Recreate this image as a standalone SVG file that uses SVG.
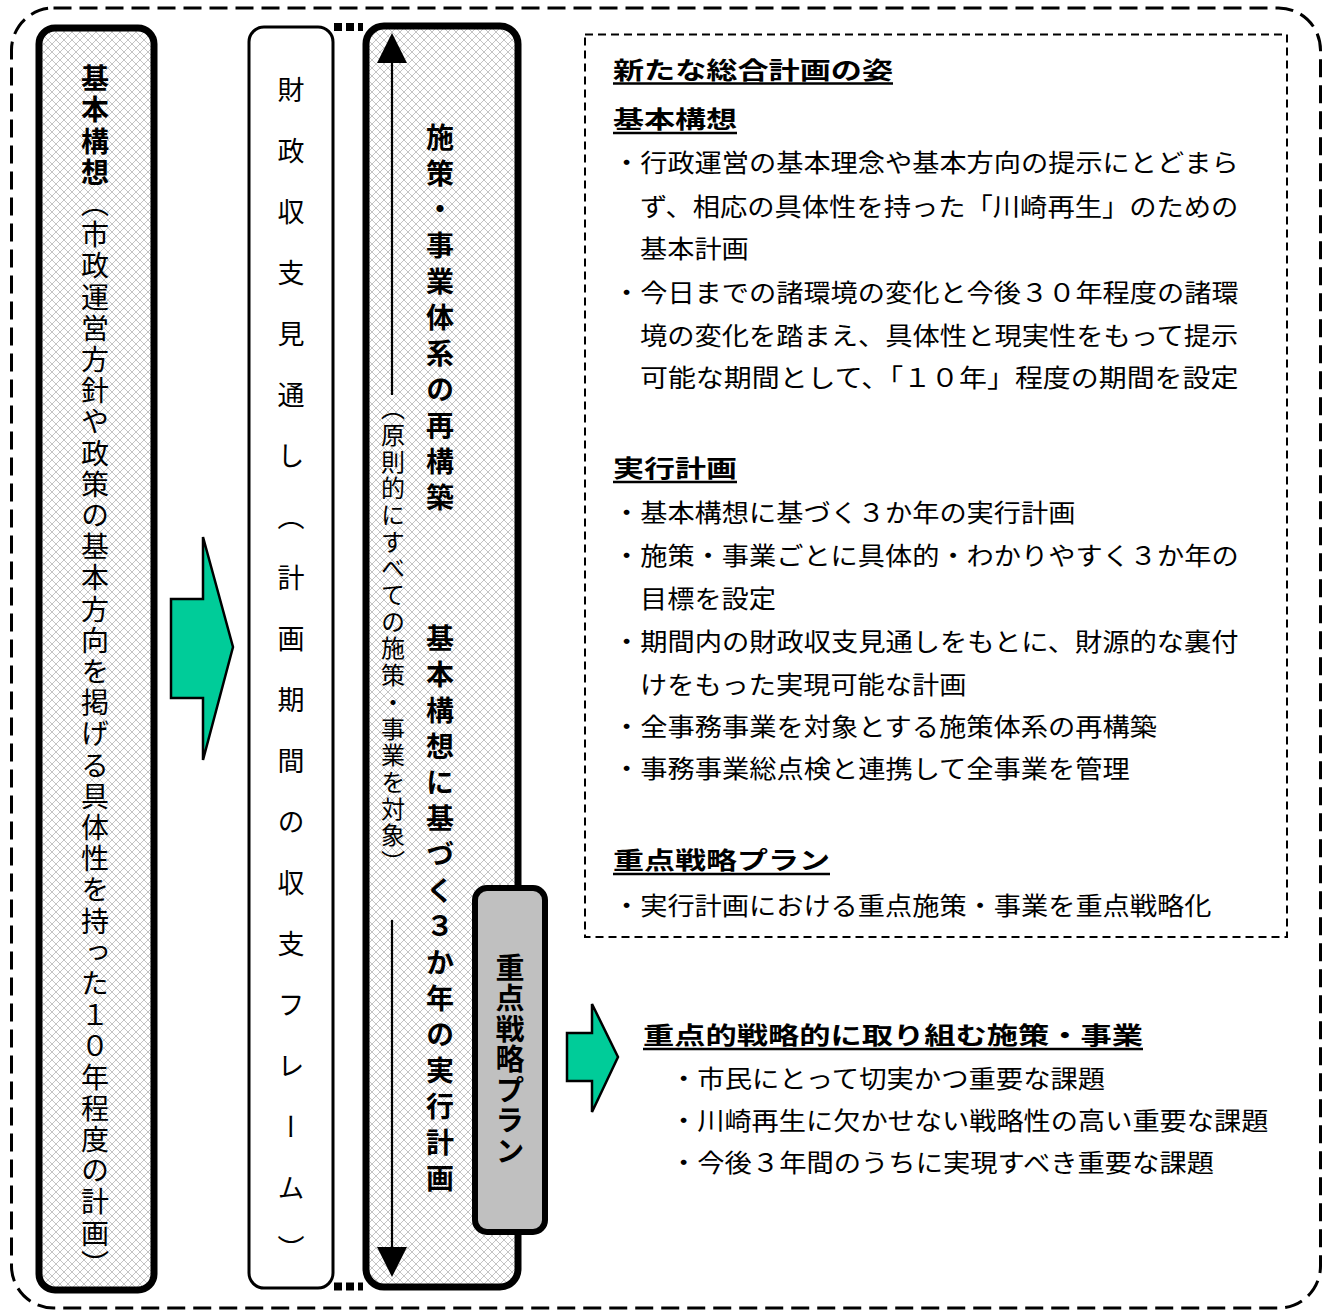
<svg xmlns="http://www.w3.org/2000/svg" width="1324" height="1313" viewBox="0 0 1324 1313">
<style>
.v { writing-mode: vertical-rl; font-family: "Noto Sans CJK JP", "Noto Sans CJK SC", sans-serif; fill: #000; }
.t { font-family: "Noto Sans CJK JP", "Noto Sans CJK SC", sans-serif; font-size: 25px; fill: #000; }
.h { font-family: "Noto Sans CJK JP", "Noto Sans CJK SC", sans-serif; font-size: 24px; font-weight: bold; fill: #000; }
.ul { stroke: #000; stroke-width: 2.5; }
.garrow { fill: #00CC99; stroke: #000; stroke-width: 2.5; stroke-linejoin: miter; }
</style>
<defs>
<pattern id="hatch" width="8" height="8" patternUnits="userSpaceOnUse">
<rect width="8" height="8" fill="#fff"/>
<path d="M0,0 L8,8 M8,0 L0,8" stroke="#c4c4c4" stroke-width="1"/>
</pattern>
<marker id="ah" markerUnits="userSpaceOnUse" markerWidth="30" markerHeight="30" refX="0" refY="15" orient="auto-start-reverse" viewBox="0 0 30 30">
<path d="M0,0 L30,15 L0,30 z" fill="#000"/>
</marker>
</defs>
<rect width="1324" height="1313" fill="#fff"/>

<g id="frame">
<rect x="11.5" y="8" width="1309" height="1300" rx="42" ry="42" fill="none" stroke="#000" stroke-width="3" stroke-dasharray="18 8"/>
</g>

<g id="node-kihon-koso">
<rect x="39" y="28" width="115" height="1262" rx="16" ry="16" fill="url(#hatch)" stroke="#000" stroke-width="7"/>
<text class="v" x="95" y="64.5" font-size="28" letter-spacing="3.2"><tspan font-weight="bold">基本構想</tspan>（市政運営方針や政策の基本方向を掲げる具体性を持った１０年程度の計画）</text>
</g>

<g id="node-zaisei">
<rect x="249" y="27" width="84" height="1261" rx="15" ry="15" fill="#fff" stroke="#000" stroke-width="3"/>
<text class="v" x="291" y="76.5" font-size="27" letter-spacing="34">財政収支見通し（計画期間の収支フレーム）</text>
</g>

<g id="node-jikko">
<rect x="366" y="26" width="152" height="1261" rx="18" ry="18" fill="url(#hatch)" stroke="#000" stroke-width="7"/>
<text class="v" x="440" y="123" font-size="28" font-weight="bold" letter-spacing="8">施策・事業体系の再構築</text>
<text class="v" x="440" y="624" font-size="28" font-weight="bold" letter-spacing="8">基本構想に基づく３か年の実行計画</text>
<text class="v" x="393" y="396" font-size="24" letter-spacing="2.7">（原則的にすべての施策・事業を対象）</text>
</g>

<g id="node-juten">
<rect x="475" y="888" width="70" height="344" rx="12" ry="12" fill="#c0c0c0" stroke="#000" stroke-width="6"/>
<text class="v" x="510" y="953" font-size="29" font-weight="bold" letter-spacing="1.5">重点戦略プラン</text>
</g>

<g id="connectors">
<polygon class="garrow" points="171,599 203,599 203,537 233,647 203,760 203,698 171,698"/>
<polygon class="garrow" points="567,1033 592,1033 592,1004 618,1057 592,1112 592,1081 567,1081"/>
<line x1="334" y1="27" x2="363" y2="27" stroke="#000" stroke-width="8" stroke-dasharray="8 4"/>
<line x1="334" y1="1286.5" x2="363" y2="1286.5" stroke="#000" stroke-width="8" stroke-dasharray="8 4"/>
<line x1="392" y1="63" x2="392" y2="395" stroke="#000" stroke-width="2.2" marker-start="url(#ah)"/>
<line x1="392" y1="920" x2="392" y2="1247" stroke="#000" stroke-width="2.2" marker-end="url(#ah)"/>
</g>

<g id="node-sugata">
<rect x="585" y="34.5" width="702" height="902.5" fill="#fff" stroke="#000" stroke-width="2" stroke-dasharray="8 5"/>
<text class="h" x="613" y="79" textLength="280" lengthAdjust="spacingAndGlyphs">新たな総合計画の姿</text>
<line class="ul" x1="613" y1="83.5" x2="893" y2="83.5"/>
<text class="h" x="613" y="128" textLength="124" lengthAdjust="spacingAndGlyphs">基本構想</text>
<line class="ul" x1="613" y1="133" x2="737" y2="133"/>
<text class="t" x="613" y="172" textLength="625.6" lengthAdjust="spacingAndGlyphs">・行政運営の基本理念や基本方向の提示にとどまら</text>
<text class="t" x="640" y="216" textLength="598.4" lengthAdjust="spacingAndGlyphs">ず、相応の具体性を持った「川崎再生」のための</text>
<text class="t" x="640" y="258" textLength="108.8" lengthAdjust="spacingAndGlyphs">基本計画</text>
<text class="t" x="613" y="302" textLength="625.6" lengthAdjust="spacingAndGlyphs">・今日までの諸環境の変化と今後３０年程度の諸環</text>
<text class="t" x="640" y="345" textLength="598.4" lengthAdjust="spacingAndGlyphs">境の変化を踏まえ、具体性と現実性をもって提示</text>
<text class="t" x="640" y="387" textLength="598.4" lengthAdjust="spacingAndGlyphs">可能な期間として、「１０年」程度の期間を設定</text>
<text class="h" x="613" y="477" textLength="124" lengthAdjust="spacingAndGlyphs">実行計画</text>
<line class="ul" x1="613" y1="482" x2="737" y2="482"/>
<text class="t" x="613" y="522" textLength="462.4" lengthAdjust="spacingAndGlyphs">・基本構想に基づく３か年の実行計画</text>
<text class="t" x="613" y="565" textLength="625.6" lengthAdjust="spacingAndGlyphs">・施策・事業ごとに具体的・わかりやすく３か年の</text>
<text class="t" x="640" y="608" textLength="136" lengthAdjust="spacingAndGlyphs">目標を設定</text>
<text class="t" x="613" y="651" textLength="625.6" lengthAdjust="spacingAndGlyphs">・期間内の財政収支見通しをもとに、財源的な裏付</text>
<text class="t" x="640" y="694" textLength="326.4" lengthAdjust="spacingAndGlyphs">けをもった実現可能な計画</text>
<text class="t" x="613" y="736" textLength="544" lengthAdjust="spacingAndGlyphs">・全事務事業を対象とする施策体系の再構築</text>
<text class="t" x="613" y="778" textLength="516.8" lengthAdjust="spacingAndGlyphs">・事務事業総点検と連携して全事業を管理</text>
<text class="h" x="613" y="869" textLength="217" lengthAdjust="spacingAndGlyphs">重点戦略プラン</text>
<line class="ul" x1="613" y1="874" x2="830" y2="874"/>
<text class="t" x="613" y="915" textLength="598.4" lengthAdjust="spacingAndGlyphs">・実行計画における重点施策・事業を重点戦略化</text>
</g>

<g id="node-juten-jigyo">
<text class="h" x="643" y="1044" textLength="500" lengthAdjust="spacingAndGlyphs">重点的戦略的に取り組む施策・事業</text>
<line class="ul" x1="643" y1="1049" x2="1143" y2="1049"/>
<text class="t" x="670" y="1088" textLength="435.2" lengthAdjust="spacingAndGlyphs">・市民にとって切実かつ重要な課題</text>
<text class="t" x="670" y="1130" textLength="598.4" lengthAdjust="spacingAndGlyphs">・川崎再生に欠かせない戦略性の高い重要な課題</text>
<text class="t" x="670" y="1172" textLength="544" lengthAdjust="spacingAndGlyphs">・今後３年間のうちに実現すべき重要な課題</text>
</g>
</svg>
